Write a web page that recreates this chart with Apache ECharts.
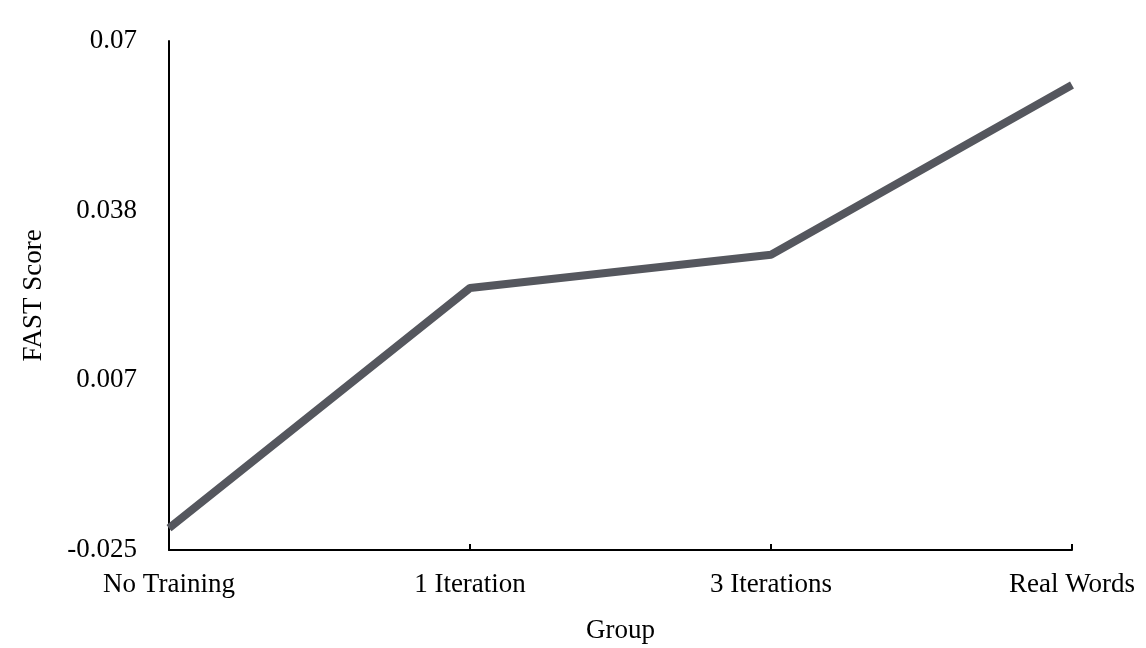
<!DOCTYPE html>
<html>
<head>
<meta charset="utf-8">
<script src="https://cdn.jsdelivr.net/npm/echarts@6/dist/echarts.min.js"></script>
<style>
html,body{margin:0;padding:0;background:#fff;}
#chart{width:1146px;height:648px;}
</style>
</head>
<body>
<div id="chart"></div>
<script>
var categories = ['No Training', '1 Iteration', '3 Iterations', 'Real Words'];
var fastScores = [-0.0209, 0.0239, 0.0301, 0.0618];
var yTickValues = [-0.025, 0.07 - 0.095 * 2 / 3, 0.07 - 0.095 / 3, 0.07];
var yTickLabels = ['-0.025', '0.007', '0.038', '0.07'];

var chart = echarts.init(document.getElementById('chart'));
var font = '"Liberation Serif", "Times New Roman", serif';
chart.setOption({
  animation: false,
  grid: {left: 169, right: 74, top: 41, bottom: 98, outerBoundsMode: 'none', containLabel: false},
  xAxis: {
    type: 'category',
    data: categories,
    boundaryGap: false,
    name: 'Group',
    nameLocation: 'middle',
    nameGap: 67,
    nameTextStyle: {fontFamily: font, fontSize: 27, color: '#000'},
    axisLine: {onZero: false, lineStyle: {color: '#000', width: 2}},
    axisTick: {show: true, inside: true, length: 6, alignWithLabel: true, lineStyle: {color: '#000', width: 2}},
    axisLabel: {fontFamily: font, fontSize: 27, color: '#000', margin: 21, interval: 0},
    splitLine: {show: false}
  },
  yAxis: {
    type: 'value',
    min: -0.025,
    max: 0.07,
    name: 'FAST Score',
    nameLocation: 'middle',
    nameGap: 122,
    nameRotate: 90,
    nameTextStyle: {fontFamily: font, fontSize: 27, color: '#000'},
    axisLine: {show: true, onZero: false, lineStyle: {color: '#000', width: 2}},
    axisTick: {show: false, customValues: yTickValues},
    axisLabel: {
      fontFamily: font, fontSize: 27, color: '#000', margin: 32,
      customValues: yTickValues,
      formatter: function (v) {
        var best = 0, d = Infinity;
        for (var i = 0; i < yTickValues.length; i++) {
          var dd = Math.abs(yTickValues[i] - v);
          if (dd < d) { d = dd; best = i; }
        }
        return yTickLabels[best];
      }
    },
    splitLine: {show: false}
  },
  series: [{
    type: 'line',
    data: fastScores,
    symbol: 'none',
    lineStyle: {color: '#55575e', width: 8}
  }]
});
</script>
</body>
</html>
